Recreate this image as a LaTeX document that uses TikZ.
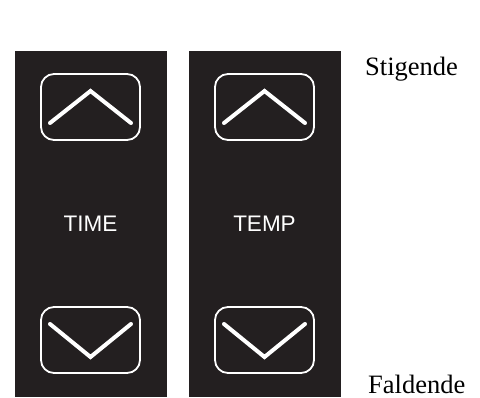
\documentclass[tikz,border=0pt]{standalone}
\usepackage{fontspec}
\setmainfont{Liberation Serif}
\newfontfamily\panelfont{Liberation Sans}
\definecolor{panel}{HTML}{231F20}
\begin{document}
\begin{tikzpicture}[x=1pt,y=-1pt,
  panelbox/.style={fill=panel,draw=none},
  btn/.style={draw=white,line width=1.8pt,rounded corners=13pt},
  chev/.style={draw=white,line width=4pt,line cap=round,line join=miter},
  lbl/.style={text=white,font=\panelfont\fontsize{22.5}{22.5}\selectfont,inner sep=0pt},
  side/.style={font=\fontsize{26.5}{26.5}\selectfont,inner sep=0pt,anchor=base west}]
\useasboundingbox (0,0) rectangle (480,397);
% panels
\fill[panelbox] (15,51) rectangle (167,397);
\fill[panelbox] (189,51) rectangle (341,397);
\foreach \dx/\name/\txt in {0/time/TIME,174/temp/TEMP}{
  \begin{scope}[xshift=\dx pt]
    \draw[btn] (41,74) rectangle (140,140);
    \draw[chev] (50,123) -- (90.5,91) -- (131,123);
    \node[lbl] (\name) at (90.5,223.5) {\txt};
    \draw[btn] (41,307) rectangle (140,373);
    \draw[chev] (50,324) -- (90.5,357) -- (131,324);
  \end{scope}
}
\node[side] (up) at (365,75) {Stigende};
\node[side] (down) at (368,393) {Faldende};
\end{tikzpicture}
\end{document}
